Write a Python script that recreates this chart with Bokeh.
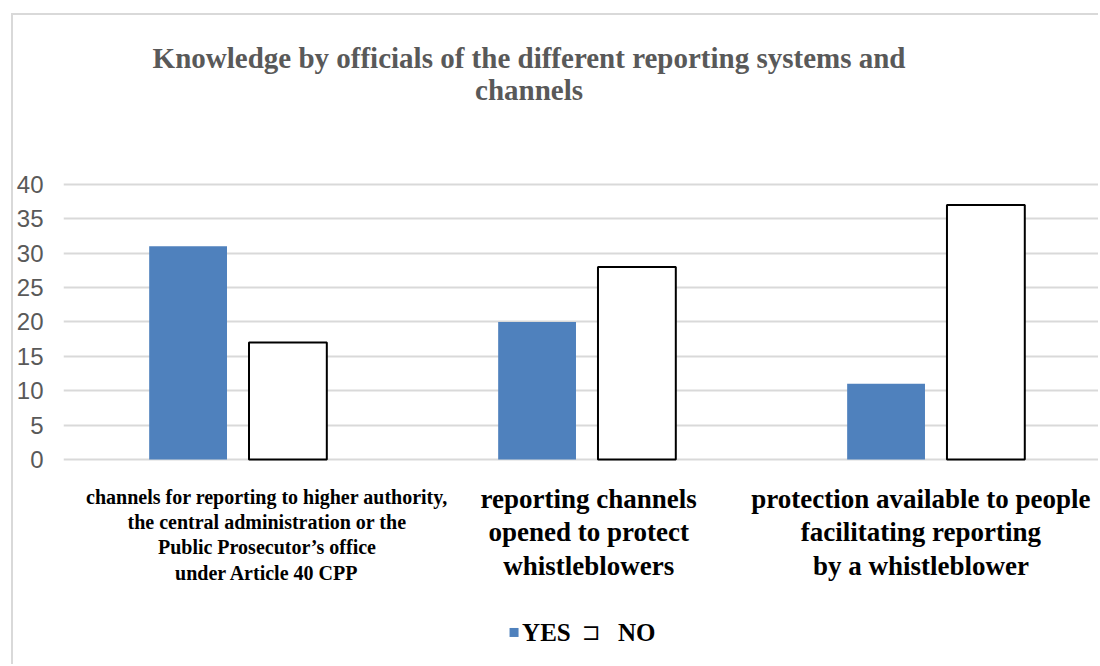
from bokeh.plotting import figure
from bokeh.models import Range1d, FixedTicker, ColumnDataSource
from bokeh.core.properties import value
from bokeh.embed import file_html
from bokeh.resources import INLINE

# ---- data ----
categories = [
    "channels for reporting to higher authority,\nthe central administration or the\nPublic Prosecutor\u2019s office\nunder Article 40 CPP",
    "reporting channels\nopened to protect\nwhistleblowers",
    "protection available to people\nfacilitating reporting\nby a whistleblower",
]
yes_values = [31, 20, 11]
no_values = [17, 28, 37]
y_ticks = [0, 5, 10, 15, 20, 25, 30, 35, 40]
title_text = "Knowledge by officials of the different reporting systems and\nchannels"
series_names = ["YES", "NO"]

# ---- styles / layout ----
BLUE = "#4f81bd"
GRAY_TXT = "#595959"
GRID = "#d9d9d9"
SERIF = "Liberation Serif"
dodge = 0.143
bar_w = 0.223
label_dx = [0.083, 0.005, -0.043]
label_y = [-3.9, -3.5, -3.5]
label_sizes = ["20px", "27px", "27px"]
label_lh = [1.14, 1.12, 1.12]

idx = list(range(len(categories)))

p = figure(
    width=1087, height=651,
    x_range=Range1d(-0.5, 2.4657), y_range=Range1d(-30.11, 64.58),
    output_backend="svg", toolbar_location=None,
    x_axis_location=None,
    min_border_left=47, min_border_right=2, min_border_top=0, min_border_bottom=0,
    outline_line_color=None,
)
p.margin = (13, 0, 0, 11)
p.styles = {"border-left": "2px solid #d9d9d9", "border-top": "2px solid #d9d9d9"}

p.xgrid.visible = False
p.yaxis.ticker = FixedTicker(ticks=y_ticks)
p.ygrid.ticker = FixedTicker(ticks=y_ticks)
p.ygrid.grid_line_color = GRID
p.ygrid.grid_line_width = 2
p.yaxis.axis_line_color = None
p.yaxis.major_tick_line_color = None
p.yaxis.minor_tick_line_color = None
p.yaxis.major_tick_out = 0
p.yaxis.major_tick_in = 0
p.yaxis.major_label_standoff = 20
p.yaxis.major_label_text_font = "Liberation Sans"
p.yaxis.major_label_text_font_size = "24px"
p.yaxis.major_label_text_color = GRAY_TXT

src = ColumnDataSource(dict(
    x_yes=[i - dodge for i in idx], x_no=[i + dodge for i in idx],
    yes=yes_values, no=no_values,
))
p.vbar(x="x_yes", top="yes", bottom=0, width=bar_w, source=src,
       fill_color=BLUE, line_color=None)
p.vbar(x="x_no", top="no", bottom=0, width=bar_w, source=src,
       fill_color="white", line_color="black", line_width=2)

# category labels
for i, cat in enumerate(categories):
    p.text(x=[i + label_dx[i]], y=[label_y[i]], text=[cat],
           text_font=value(SERIF), text_font_style="bold",
           text_font_size=label_sizes[i], text_line_height=label_lh[i],
           text_align="center", text_baseline="top", text_color="black")

# legend
leg_y = -25.16
p.scatter(x=[0.791], y=[leg_y], marker="square", size=9,
          fill_color=BLUE, line_color=None)
p.text(x=[0.814], y=[leg_y], text=[series_names[0]], text_font=value(SERIF),
       text_font_style="bold", text_font_size="25px", text_baseline="middle",
       text_color="black")
p.text(x=[0.986], y=[leg_y], text=["\u2290"], text_font=value("DejaVu Serif"),
       text_font_size="22px", text_baseline="middle", text_color="black")
p.text(x=[1.089], y=[leg_y], text=[series_names[1]], text_font=value(SERIF),
       text_font_style="bold", text_font_size="25px", text_baseline="middle",
       text_color="black")

# title
p.text(x=[0.834], y=[56.07], text=[title_text], text_font=value(SERIF),
       text_font_style="bold", text_font_size="29px",
       text_color=GRAY_TXT, text_align="center",
       text_baseline="middle", text_line_height=1.0)

open("out.html", "w").write(file_html(p, INLINE))
